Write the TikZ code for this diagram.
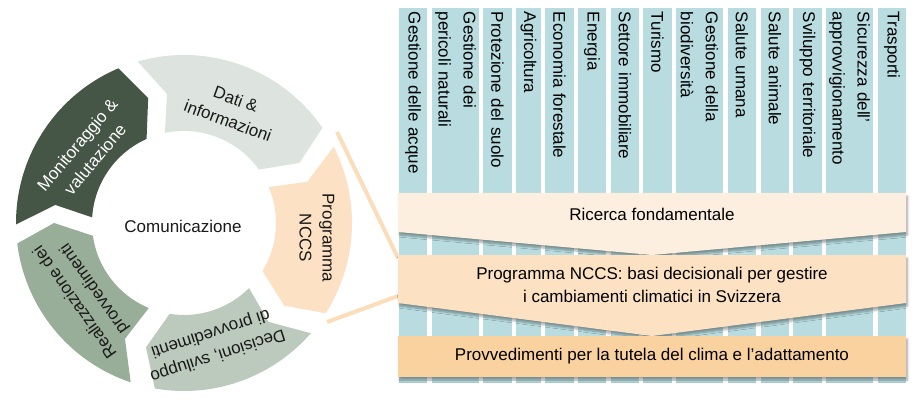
\documentclass[tikz,border=0pt]{standalone}
\usepackage{fontspec}
\setmainfont{Liberation Sans}
\usepackage{xcolor}
\usepackage{tikz}
\usetikzlibrary{shadows.blur}

\definecolor{colblue}{HTML}{B8DCE0}
\definecolor{bandlight}{HTML}{FDEFDF}
\definecolor{bandmid}{HTML}{FCE1C2}
\definecolor{banddark}{HTML}{FAD29F}
\definecolor{ringdati}{HTML}{DDE4DF}
\definecolor{ringmonit}{HTML}{465646}
\definecolor{ringreal}{HTML}{99AE98}
\definecolor{ringdecis}{HTML}{BCCABE}
\definecolor{ringnccs}{HTML}{FCE1C4}
\definecolor{zoomorange}{HTML}{FBDDBA}

\begin{document}
\begin{tikzpicture}[x=1pt, y=1pt,
    segtext/.style={font=\fontsize{17}{23}\selectfont, align=center,
                    inner sep=0pt, text=black!90},
    colbox/.style={fill=colblue, rotate=-90, minimum width=375pt,
                   text width=367pt, inner xsep=4pt, inner ysep=0pt,
                   align=left, font=\fontsize{17}{25}\selectfont},
    bandshadow/.style={blur shadow={shadow xshift=1.5pt, shadow yshift=-3pt,
                       shadow opacity=35, shadow blur steps=6}},
    bandtext/.style={font=\fontsize{17}{23}\selectfont, align=center,
                     inner sep=0pt},
    zoomline/.style={draw=zoomorange, line width=4pt}
  ]
    \useasboundingbox (0,0) rectangle (917,-403);

    % cycle on the left
    \begin{scope}[shift={(184,-223)}]
      \fill[ringmonit] (180.5:168) arc[start angle=180.5, end angle=113, radius=168]
        -- (106:130) -- (114:92) arc[start angle=114, end angle=176.5, radius=92]
        -- (172:130) -- cycle;
      \fill[ringdati] (106:168) arc[start angle=106, end angle=34.5, radius=168]
        -- (27.5:130) -- (35.5:92) arc[start angle=35.5, end angle=102, radius=92]
        -- (97.5:130) -- cycle;
      \fill[ringnccs] (27:168) arc[start angle=27, end angle=-32.5, radius=168]
        -- (-39.5:130) -- (-31.5:92) arc[start angle=-31.5, end angle=23, radius=92]
        -- (18.5:130) -- cycle;
      \fill[ringdecis] (-41:168) arc[start angle=-41, end angle=-100, radius=168]
        -- (-107:130) -- (-99:92) arc[start angle=-99, end angle=-45, radius=92]
        -- (-49.5:130) -- cycle;
      \fill[ringreal] (-108.5:168) arc[start angle=-108.5, end angle=-173, radius=168]
        -- (-180:130) -- (-172:92) arc[start angle=-172, end angle=-112.5, radius=92]
        -- (-117:130) -- cycle;
    \end{scope}

    \node[segtext] (comm)   at (183,-226) {Comunicazione};
    \node[segtext, rotate=-20] (dati) at (232,-110) {Dati \&\\informazioni};
    \node[segtext, rotate=50, text=white] (monit) at (86,-152) {Monitoraggio \&\\valutazione};
    \node[segtext, rotate=125] (realiz) at (85,-295) {Realizzazione dei\\provvedimenti};
    \node[segtext, rotate=-162] (decis) at (214,-344) {Decisioni, sviluppo\\di provvedimenti};
    \node[segtext, rotate=-90] (nccs) at (317,-238) {Programma\\NCCS};

    % sectors
    \node[colbox, minimum height=28pt] (acque)   at (413,-195.5)   {Gestione delle acque};
    \node[colbox, minimum height=47pt] (pericoli) at (455.5,-195.5) {Gestione dei\\pericoli naturali};
    \node[colbox, minimum height=29pt] (suolo)   at (497.5,-195.5) {Protezione del suolo};
    \node[colbox, minimum height=25pt] (agri)    at (528.5,-195.5) {Agricoltura};
    \node[colbox, minimum height=29pt] (foresta) at (559.5,-195.5) {Economia forestale};
    \node[colbox, minimum height=28pt] (energia) at (592,-195.5)   {Energia};
    \node[colbox, minimum height=28pt] (immob)   at (625,-195.5)   {Settore immobiliare};
    \node[colbox, minimum height=29pt] (turismo) at (657.5,-195.5) {Turismo};
    \node[colbox, minimum height=47pt] (biodiv)  at (699.5,-195.5) {Gestione della\\biodiversità};
    \node[colbox, minimum height=28pt] (umana)   at (742,-195.5)   {Salute umana};
    \node[colbox, minimum height=28pt] (animale) at (775,-195.5)   {Salute animale};
    \node[colbox, minimum height=29pt] (territ)  at (807.5,-195.5) {Sviluppo territoriale};
    \node[colbox, minimum height=47pt] (approv)  at (849.5,-195.5) {Sicurezza dell’\\approvvigionamento};
    \node[colbox, minimum height=28pt] (trasp)   at (892,-195.5)   {Trasporti};

    % zoom lines
    \coordinate (nccsA) at (337,-132);
    \coordinate (nccsB) at (327,-322);
    \coordinate (bandA) at (398,-258);
    \coordinate (bandB) at (398,-296);
    \draw[zoomline] (nccsA) -- (bandA);
    \draw[zoomline] (nccsB) -- (bandB);

    % bands
    \fill[bandlight, bandshadow] (398,-193) -- (906,-193) -- (906,-232)
      -- (652,-255) -- (398,-232) -- cycle;
    \node[bandtext] (ricerca) at (652,-214) {Ricerca fondamentale};

    \fill[bandmid, bandshadow] (398,-255) -- (906,-255) -- (906,-303)
      -- (652,-336) -- (398,-303) -- cycle;
    \node[bandtext] (basi) at (652,-285)
      {Programma NCCS: basi decisionali per gestire\\i cambiamenti climatici in Svizzera};

    \node[bandtext, bandshadow, fill=banddark, minimum width=508pt,
          minimum height=41pt] (provv) at (652,-356.5)
      {Provvedimenti per la tutela del clima e l’adattamento};
  \end{tikzpicture}
\end{document}
